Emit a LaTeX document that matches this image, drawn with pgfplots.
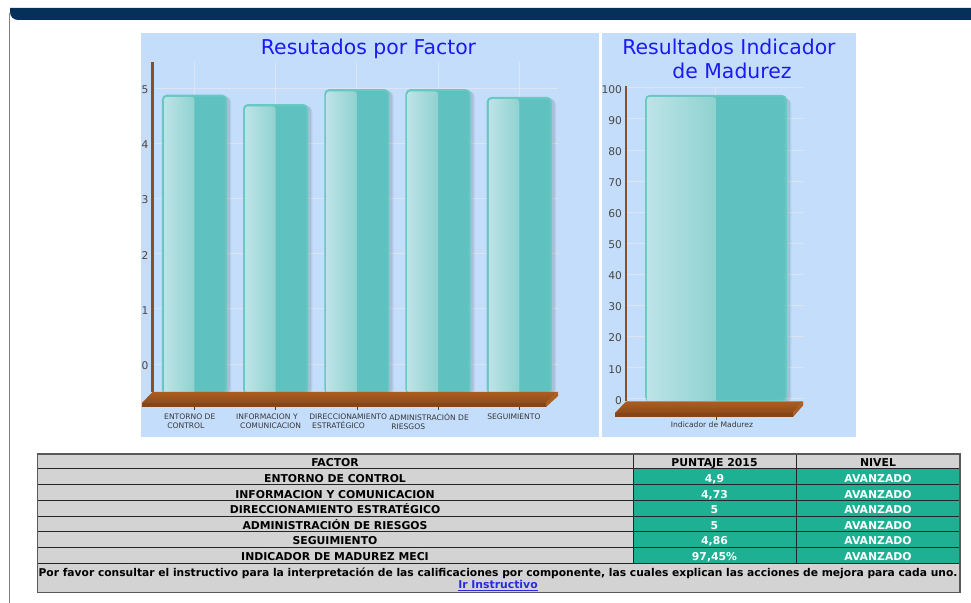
\documentclass[border=0pt]{standalone}
\usepackage{pgfplots}
\pgfplotsset{compat=1.18}
\usepackage{fontspec}
\setmainfont{DejaVu Sans}
\usetikzlibrary{calc}

\definecolor{panel}{HTML}{C4DDFB}
\definecolor{gridc}{HTML}{DDE6F0}
\definecolor{barc}{HTML}{5FC2C1}
\definecolor{barline}{HTML}{68C9C2}
\definecolor{barlight}{HTML}{BDE3E8}
\definecolor{barmid}{HTML}{8FD2CF}
\definecolor{brownc}{HTML}{8B4F22}
\definecolor{floortop}{HTML}{AB5D20}
\definecolor{floormid}{HTML}{8F4C1A}
\definecolor{floorfront}{HTML}{874516}
\definecolor{navy}{HTML}{04305A}
\definecolor{tealc}{HTML}{1EB093}
\definecolor{grayc}{HTML}{D3D3D3}
\definecolor{titleblue}{HTML}{1A1AF5}
\definecolor{linkc}{HTML}{2A2AE0}

% common look of both charts
\pgfplotsset{
  chart/.style={
    scale only axis, anchor=south west,
    axis x line=bottom, axis y line=left,
    axis line style={-},
    x axis line style={draw=none},
    y axis line style={draw=brownc, line width=2pt},
    grid=major, grid style={gridc, line width=0.75pt},
    ytick style={draw=none}, major tick length=0pt,
    xtick style={draw=none},
    xtick=data,
    /pgf/number format/assume math mode=true,
    yticklabel style={font=\fontsize{8}{10}\selectfont, text=black!72, xshift=0.5pt, yshift=-1pt},
    xticklabel style={font=\fontsize{5.7}{6.8}\selectfont, text=black!78, yshift=-12.5pt},
  },
  shadowbar/.style={ybar, fill=black, draw=none, opacity=0.07, rounded corners=4pt},
  % the light half of each bar is its own plot, so that each has its own gradient
  lighthalf/.style={ybar, bar width=22.8pt, bar shift=-11.4pt, left color=barlight, right color=barmid, draw=none, rounded corners=2pt, yshift=-2.2pt},
}

\begin{document}
\begin{tikzpicture}[x=0.75pt,y=0.75pt]
\useasboundingbox (0,0) rectangle (971,603);
\fill[white] (0,0) rectangle (971,603);

% page furniture
\draw[gray, line width=0.8pt] (9.5,590) -- (9.5,0);
\fill[navy] (10,595) -- (971,595) -- (971,583) -- (18,583) arc (270:180:8) -- cycle;

% panels
\fill[panel] (141,166) rectangle (599,570);
\fill[panel] (602,166) rectangle (856,570);

% left chart
\begin{axis}[chart,
  at={(114.375pt,158.25pt)},
  width=304.125pt, height=247.5pt,
  xmin=-0.517, xmax=4.477,
  ymin=-0.508, ymax=5.481,
  y coord trafo/.code={\pgfmathparse{#1+0.508}},
  y coord inv trafo/.code={\pgfmathparse{#1-0.508}},
  disabledatascaling,
  ytick={0,1,2,3,4,5},
  xtick={0,1,2,3,4},
  xticklabel style={anchor=north west, align=left, inner xsep=0pt, xshift=-37.5pt},
  xticklabels={
    {\hspace*{14.6pt}ENTORNO DE\\\hspace*{16.9pt}CONTROL},
    {\hspace*{7.7pt}INFORMACION Y\\\hspace*{10.7pt}COMUNICACION},
    {\hspace*{1.6pt}DIRECCIONAMIENTO\\\hspace*{3.8pt}ESTRATÉGICO},
    {\hspace*{0.7pt}ADMINISTRACIÓN DE\\\hspace*{2.2pt}RIESGOS},
    {\hspace*{13.3pt}SEGUIMIENTO}},
]
\addplot[shadowbar, bar width=50pt, bar shift=1.5pt, yshift=-1.5pt] coordinates {(0,4.9) (1,4.73) (2,5) (3,5) (4,4.86)};
\addplot[shadowbar, bar width=50pt, bar shift=2.5pt, yshift=-2pt] coordinates {(0,4.9) (1,4.73) (2,5) (3,5) (4,4.86)};
\addplot[ybar, bar width=47.5pt, bar shift=0pt, fill=barc, draw=barline, line width=1.4pt, rounded corners=3pt, yshift=-1.2pt] coordinates {(0,4.9) (1,4.73) (2,5) (3,5) (4,4.86)};
\addplot[lighthalf] coordinates {(0,4.9)};
\addplot[lighthalf] coordinates {(1,4.73)};
\addplot[lighthalf] coordinates {(2,5)};
\addplot[lighthalf] coordinates {(3,5)};
\addplot[lighthalf] coordinates {(4,4.86)};
\end{axis}
% floor of the left chart
\shade[top color=floortop, bottom color=floormid] (152.5,211) -- (558,211) -- (546,200) -- (142,200) -- cycle;
\fill[floorfront] (142,200) -- (546,200) -- (546,196) -- (142,196) -- cycle;
\fill[floortop] (546,200) -- (558,211) -- (558,207) -- (546,196) -- cycle;
\foreach \x in {194.5,275.7,356.9,438.1,519.3} \draw[brownc!70!black, line width=0.6pt] (\x,196) -- (\x,193);

% right chart
\begin{axis}[chart,
  at={(469.5pt,151.725pt)},
  width=132.75pt, height=235.8pt,
  xmin=-0.638, xmax=0.617,
  ymin=-0.55, ymax=100.5,
  y coord trafo/.code={\pgfmathparse{#1+0.55}},
  y coord inv trafo/.code={\pgfmathparse{#1-0.55}},
  disabledatascaling,
  ytick={0,10,...,100},
  xticklabel style={xshift=-3pt},
  xticklabels={Indicador de Madurez},
]
\addplot[shadowbar, bar width=108pt, bar shift=1.5pt, yshift=-1.5pt] coordinates {(0,97.45)};
\addplot[shadowbar, bar width=108pt, bar shift=2.5pt, yshift=-2pt] coordinates {(0,97.45)};
\addplot[ybar, bar width=105pt, bar shift=0pt, fill=barc, draw=barline, line width=1.4pt, rounded corners=3pt] coordinates {(0,97.45)};
\addplot[lighthalf, bar width=51.8pt, bar shift=-25.9pt, yshift=1.3pt] coordinates {(0,97.45)};
\end{axis}
% floor of the right chart
\shade[top color=floortop, bottom color=floormid] (626,201.5) -- (803,201.5) -- (793,190) -- (615,190) -- cycle;
\fill[floorfront] (615,190) -- (793,190) -- (793,186) -- (615,186) -- cycle;
\fill[floortop] (793,190) -- (803,201.5) -- (803,197.5) -- (793,186) -- cycle;
\draw[brownc!70!black, line width=0.6pt] (716,186) -- (716,183);

% titles
\tikzset{ttl/.style={text=titleblue, anchor=base, inner sep=0pt, font=\fontsize{15.3}{18}\selectfont}}
\node[ttl] at (368.5,548) {Resutados por Factor};
\node[ttl] at (729,548.7) {Resultados Indicador};
\node[ttl] at (732,524.7) {de Madurez};

% table
\fill[grayc] (37.5,149) rectangle (960,10.5);
\fill[tealc] (633,134) rectangle (960,39.7);
\foreach \y in {134,118.3,102.4,86.7,71,55.3,39.7} \draw[black!85, line width=0.75pt] (37.5,\y) -- (960,\y);
\draw[black!85, line width=0.75pt] (633,149) -- (633,39.7) (796,149) -- (796,39.7);
\draw[black!65, line width=0.9pt] (37.5,149) rectangle (960,10.5);

\def\rowfont{\fontsize{8.13}{10}\bfseries\selectfont}
\tikzset{cell/.style={anchor=base, inner sep=0pt, font=\rowfont}}
\node[cell] at (335,136.7) {FACTOR};
\node[cell] at (714.5,136.7) {PUNTAJE 2015};
\node[cell] at (878,136.7) {NIVEL};
\foreach \y/\a/\b in {
  120/ENTORNO DE CONTROL/{4,9},
  104.7/INFORMACION Y COMUNICACION/{4,73},
  89.3/DIRECCIONAMIENTO ESTRATÉGICO/5,
  73.7/ADMINISTRACIÓN DE RIESGOS/5,
  58.3/SEGUIMIENTO/{4,86},
  42.7/INDICADOR DE MADUREZ MECI/{97,45\%}} {
  \node[cell] at (335,\y) {\a};
  \node[cell, text=white] at (714.5,\y) {\b};
  \node[cell, text=white] at (878,\y) {AVANZADO};
}
\node[cell, font=\fontsize{8.03}{10}\bfseries\selectfont] at (498,26.5) {Por favor consultar el instructivo para la interpretación de las calificaciones por componente, las cuales explican las acciones de mejora para cada uno.};
\node[cell, text=linkc] (lnk) at (498,14) {Ir Instructivo};
\draw[linkc, line width=0.6pt] ($(lnk.base west)+(0,-1)$) -- ($(lnk.base east)+(0,-1)$);
\end{tikzpicture}
\end{document}
